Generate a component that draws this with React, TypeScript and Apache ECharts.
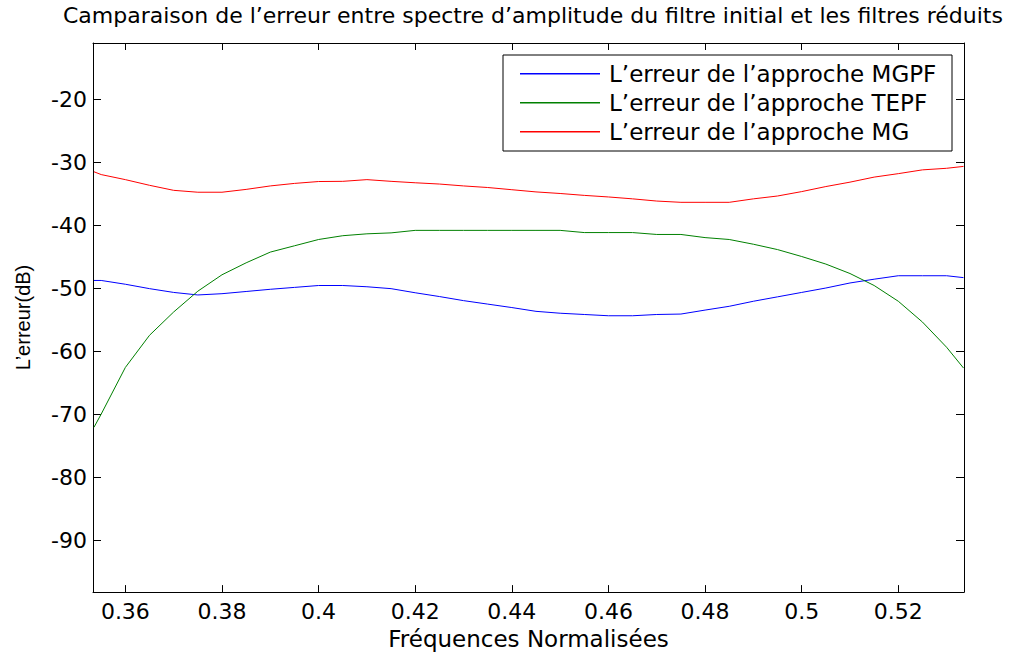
import React, { useEffect, useRef } from "react";
import * as echarts from "echarts";

const titleText =
  "Camparaison de l\u2019erreur entre spectre d\u2019amplitude du filtre initial et les filtres r\u00e9duits";
const xName = "Fr\u00e9quences Normalis\u00e9es";
const yName = "L\u2019erreur(dB)";
const seriesNames = [
  "L\u2019erreur de l\u2019approche MGPF",
  "L\u2019erreur de l\u2019approche TEPF",
  "L\u2019erreur de l\u2019approche MG",
];

const xTicks = [0.36, 0.38, 0.4, 0.42, 0.44, 0.46, 0.48, 0.5, 0.52];
const yTicks = [-90, -80, -70, -60, -50, -40, -30, -20];

const freqs = [
  0.3535, 0.355, 0.36, 0.365, 0.37, 0.375, 0.38, 0.385, 0.39, 0.395, 0.4,
  0.405, 0.41, 0.415, 0.42, 0.425, 0.43, 0.435, 0.44, 0.445, 0.45, 0.455,
  0.46, 0.465, 0.47, 0.475, 0.48, 0.485, 0.49, 0.495, 0.5, 0.505, 0.51,
  0.515, 0.52, 0.525, 0.53, 0.5335,
];

const errMGPF = [
  -48.7, -48.7, -49.3, -50.0, -50.6, -51.0, -50.8, -50.45, -50.1, -49.8,
  -49.5, -49.5, -49.7, -50.0, -50.65, -51.25, -51.9, -52.45, -53.0, -53.6,
  -53.9, -54.1, -54.3, -54.3, -54.1, -54.03, -53.4, -52.8, -52.0, -51.3,
  -50.6, -49.9, -49.1, -48.5, -47.95, -47.95, -47.95, -48.25,
];

const errTEPF = [
  -72.0, -69.9, -62.5, -57.4, -53.7, -50.4, -47.8, -45.9, -44.2, -43.2,
  -42.2, -41.6, -41.3, -41.15, -40.75, -40.75, -40.75, -40.75, -40.75,
  -40.75, -40.75, -41.1, -41.1, -41.1, -41.4, -41.4, -41.9, -42.2, -42.95,
  -43.8, -44.9, -46.1, -47.6, -49.5, -52.0, -55.3, -59.3, -62.6,
];

const errMG = [
  -31.45, -31.9, -32.7, -33.6, -34.4, -34.7, -34.7, -34.25, -33.7, -33.3,
  -33.0, -32.97, -32.7, -32.97, -33.2, -33.4, -33.7, -33.95, -34.3, -34.65,
  -34.9, -35.2, -35.45, -35.75, -36.1, -36.3, -36.3, -36.3, -35.75, -35.3,
  -34.6, -33.8, -33.1, -32.3, -31.75, -31.15, -30.9, -30.6,
];

const seriesValues = [errMGPF, errTEPF, errMG];
const seriesColors = ["#0000ff", "#008000", "#ff0000"];

const X_MIN = 0.3533;
const X_MAX = 0.5336;
const Y_MIN = -98.15;
const Y_MAX = -11.02;

const FONT = "DejaVu Sans";

export default function App() {
  const ref = useRef<HTMLDivElement>(null);

  useEffect(() => {
    if (!ref.current) return;
    const chart = echarts.init(ref.current, undefined, { renderer: "svg" });

    const baseX = {
      type: "value" as const,
      min: X_MIN,
      max: X_MAX,
      splitLine: { show: false },
      axisLine: { show: true, onZero: false, lineStyle: { color: "#000", width: 1 } },
    };
    const baseY = {
      type: "value" as const,
      min: Y_MIN,
      max: Y_MAX,
      splitLine: { show: false },
      axisLine: { show: true, onZero: false, lineStyle: { color: "#000", width: 1 } },
    };

    const legendRowsY = [73, 102, 131];

    chart.setOption({
      animation: false,
      backgroundColor: "#fff",
      color: seriesColors,
      title: {
        text: titleText,
        left: 63,
        top: 4,
        padding: 0,
        textStyle: { fontFamily: FONT, fontSize: 22, fontWeight: "normal", color: "#000" },
      },
      grid: { left: 93, top: 43, right: 46, bottom: 59, containLabel: false },
      xAxis: [
        {
          ...baseX,
          position: "bottom",
          name: xName,
          nameLocation: "middle",
          nameGap: 32,
          nameTextStyle: { fontFamily: FONT, fontSize: 23, color: "#000" },
          axisTick: { show: true, inside: true, length: 7, customValues: xTicks, lineStyle: { color: "#000" } },
          axisLabel: {
            show: true,
            customValues: xTicks,
            margin: 8,
            fontFamily: FONT,
            fontSize: 22,
            color: "#000",
            formatter: (v: number) => String(Math.round(v * 100) / 100),
          },
        },
        {
          ...baseX,
          position: "top",
          axisTick: { show: true, inside: true, length: 7, customValues: xTicks, lineStyle: { color: "#000" } },
          axisLabel: { show: false, customValues: xTicks },
        },
      ],
      yAxis: [
        {
          ...baseY,
          position: "left",
          name: yName,
          nameLocation: "middle",
          nameRotate: 90,
          nameGap: 60,
          nameTextStyle: { fontFamily: "Liberation Sans", fontSize: 20, color: "#000" },
          axisTick: { show: true, inside: true, length: 8, customValues: yTicks, lineStyle: { color: "#000" } },
          axisLabel: {
            show: true,
            customValues: yTicks,
            margin: 6,
            fontFamily: FONT,
            fontSize: 22,
            color: "#000",
          },
        },
        {
          ...baseY,
          position: "right",
          axisTick: { show: true, inside: true, length: 8, customValues: yTicks, lineStyle: { color: "#000" } },
          axisLabel: { show: false, customValues: yTicks },
        },
      ],
      legend: {
        orient: "vertical",
        left: 503,
        top: 55,
        padding: [7, 12, 8, 17],
        itemGap: 6,
        itemWidth: 80,
        itemHeight: 14,
        z: 10,
        itemStyle: { opacity: 0, borderWidth: 0 },
        lineStyle: { opacity: 0 },
        textStyle: { fontFamily: FONT, fontSize: 23, color: "#000", padding: [0, 0, 0, 3] },
        data: seriesNames,
      },
      graphic: [
        {
          type: "rect",
          z: 5,
          shape: { x: 503, y: 55, width: 449, height: 96 },
          style: { fill: "#fff", stroke: "#000", lineWidth: 1 },
        },
        ...legendRowsY.map((y, i) => ({
          type: "rect",
          z: 20,
          shape: { x: 520, y: y, width: 80, height: 1.5 },
          style: { fill: seriesColors[i], stroke: "none" },
        })),
      ],
      series: seriesValues.map((vals, i) => ({
        name: seriesNames[i],
        type: "line",
        xAxisIndex: 0,
        yAxisIndex: 0,
        symbol: "none",
        showSymbol: false,
        color: seriesColors[i],
        itemStyle: { color: seriesColors[i] },
        lineStyle: { color: seriesColors[i], width: 1 },
        data: freqs.map((f, j) => [f, vals[j]]),
      })),
    });

    return () => chart.dispose();
  }, []);

  return (
    <div
      ref={ref}
      style={{ position: "fixed", left: 0, top: 0, width: 1010, height: 655 }}
    />
  );
}
